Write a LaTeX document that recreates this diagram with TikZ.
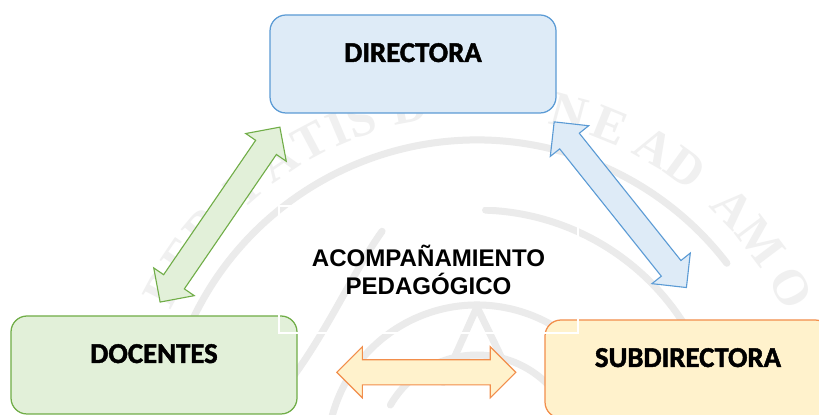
\documentclass[tikz,border=0pt]{standalone}
\usepackage{fontspec}
\usetikzlibrary{shapes.arrows}
\setmainfont{Liberation Sans}
\newfontfamily\boxfont[FakeBold=1.6]{Carlito Bold}
\newfontfamily\sealfont{Liberation Serif Bold}
\definecolor{azul}{HTML}{5B9BD5}
\definecolor{azulclaro}{HTML}{DEEBF7}
\definecolor{verde}{HTML}{70AD47}
\definecolor{verdeclaro}{HTML}{E2F0D9}
\definecolor{naranja}{HTML}{F28E4B}
\definecolor{naranjaclaro}{HTML}{FFF2CC}
\tikzset{
  cargo/.style={draw=#1,fill=#1claro,rounded corners=.16in,line width=.9pt,minimum width=2.86in,minimum height=.98in,
    text depth=.21in,text height=.17in,font=\boxfont\fontsize{20.8}{24}\selectfont},
  flecha/.style={double arrow,draw=#1,fill=#1claro,line width=.8pt,inner xsep=0pt,inner ysep=.12in,double arrow head extend=.12in},
  anillo/.style={draw=black!8,line width=.07in,line cap=round},
  letra/.style={text=black!6,inner sep=0pt,font=\sealfont\fontsize{36}{36}\selectfont}
}
\begin{document}
\begin{tikzpicture}
\path[clip,use as bounding box] (0,0) rectangle (8.19in,4.15in);
\fill[white] (0,0) rectangle (8.19in,4.15in);
% sello
\begin{scope}[shift={(4.77in,-.40in)}]
\draw[anillo] (160:3.15in) arc[start angle=160,end angle=37.5,radius=3.15in];
\draw[anillo] (88:2.45in) arc[start angle=88,end angle=10,radius=2.45in];
\draw[anillo] (113:2.43in) .. controls (125:2.2in) and (145:1.9in) .. (165:2.1in);
\draw[anillo] (165:1.5in) arc[start angle=165,end angle=15,radius=1.5in];
\draw[anillo] (150:1in) arc[start angle=150,end angle=40,radius=1in];
\draw[anillo] (90:1.48in) -- (70:.9in);
\draw[anillo] (90:1.48in) -- (115:.8in);
\foreach \ch/\ang in {B/152,E/146,R/140,T/131,A/124,T/118,I/113,S/109,D/101,N/75,E/68,A/60,D/54,A/44,M/37,O/28}
  \node[letra,rotate=\ang-90,name=sello\ang] at (\ang:3.55in) {\ch};
\end{scope}
\node[cargo=azul] (directora) at (4.13in,3.51in) {DIRECTORA};
\node[cargo=verde] (docentes) at (1.54in,.50in) {DOCENTES};
\node[cargo=naranja] (subdirectora) at (6.88in,.46in) {SUBDIRECTORA};
\node[flecha=verde,minimum height=2.12in,rotate=55.6] (flechaDoc) at (2.20in,2.004in) {};
\node[flecha=azul,minimum height=2.12in,rotate=-51.4] (flechaSub) at (6.203in,2.103in) {};
\node[flecha=naranja,minimum height=1.79in,double arrow head extend=.13in] (flechaBase) at (4.263in,.427in) {};
\node[draw=white,line width=.8pt,minimum width=2.99in,minimum height=1.27in,align=center,font=\bfseries\fontsize{17.4}{20.2}\selectfont] (acomp) at (4.285in,1.455in) {ACOMPAÑAMIENTO\\PEDAGÓGICO};
\end{tikzpicture}
\end{document}
